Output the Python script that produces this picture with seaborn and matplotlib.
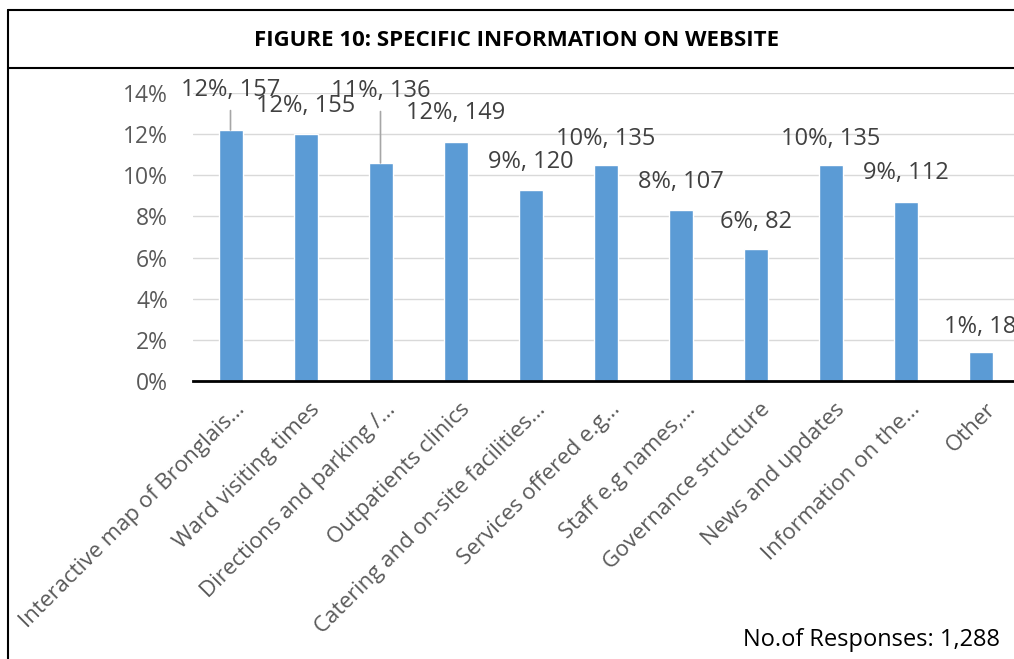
import numpy as np
import pandas as pd
import matplotlib
matplotlib.use("Agg")
import matplotlib.pyplot as plt
import seaborn as sns
from matplotlib.lines import Line2D
from matplotlib.transforms import ScaledTranslation

# data
categories = ["Interactive map of Bronglais\u2026", "Ward visiting times",
              "Directions and parking /\u2026", "Outpatients clinics",
              "Catering and on-site facilities\u2026", "Services offered e.g\u2026",
              "Staff e.g names,\u2026", "Governance structure", "News and updates",
              "Information on the\u2026", "Other"]
share = [12.2, 12.0, 10.6, 11.6, 9.3, 10.5, 8.3, 6.4, 10.5, 8.7, 1.4]   # bar height, %
pct_labels = [12, 12, 11, 12, 9, 10, 8, 6, 10, 9, 1]
counts = [157, 155, 136, 149, 120, 135, 107, 82, 135, 112, 18]
n_responses = "1,288"

# label placement (points above bar top), leader line on the moved ones
label_offset = [29, 20, 52, 21, 20, 19, 20, 20, 19, 21, 18]
leader = [True, False, True, False, False, False, False, False, False, False, False]

df = pd.DataFrame({"category": categories, "share": share})

sns.set_style("white")
plt.rcParams["font.family"] = ["Open Sans", "DejaVu Sans"]

fig = plt.figure(figsize=(10.14, 6.59), dpi=100)
W, H = 1014, 659
ax = fig.add_axes([193 / W, 278 / H, 825 / W, 288 / H])

sns.barplot(data=df, x="category", y="share", color="#5B9BD5", width=0.32,
            saturation=1, ax=ax)

ax.set_ylim(0, 14)
ax.set_xlim(-0.5, len(categories) - 0.5)
ax.set_yticks(np.arange(0, 15, 2))
ax.set_yticklabels([f"{t}%" for t in range(0, 15, 2)])
ax.yaxis.grid(True, color="#D9D9D9", lw=1)
ax.set_axisbelow(True)
for s in ["top", "right", "left"]:
    ax.spines[s].set_visible(False)
ax.spines["bottom"].set_color("black")
ax.spines["bottom"].set_linewidth(2)
ax.set_xlabel("")
ax.set_ylabel("")
ax.tick_params(axis="y", length=0, pad=18, labelsize=16.5, labelcolor="#595959")
ax.tick_params(axis="x", length=0, pad=13, labelsize=16, labelcolor="#595959")

for lab in ax.get_xticklabels():
    lab.set_rotation(45)
    lab.set_ha("right")
    lab.set_va("top")
    lab.set_rotation_mode("anchor")
    lab.set_transform(lab.get_transform() + ScaledTranslation(3 / 72, 0, fig.dpi_scale_trans))

# data labels
for i, (v, p, c, off, ld) in enumerate(zip(share, pct_labels, counts, label_offset, leader)):
    arrow = None
    if ld:
        arrow = dict(arrowstyle="-", color="#A6A6A6", lw=1.2, shrinkA=4, shrinkB=0,
                     relpos=(0.5, 0))
    ax.annotate(f"{p}%, {c}", xy=(i, v), xytext=(0, off), textcoords="offset points",
                ha="center", va="center", fontsize=17, color="#404040",
                arrowprops=arrow, annotation_clip=False)

# frame and header like the report box
fig.add_artist(Line2D([8 / W, 8 / W], [0, 1 - 10 / H], color="black", lw=1.5,
                      transform=fig.transFigure))
fig.add_artist(Line2D([8 / W, 1], [1 - 10 / H, 1 - 10 / H], color="black", lw=1.5,
                      transform=fig.transFigure))
fig.add_artist(Line2D([8 / W, 1], [1 - 68 / H, 1 - 68 / H], color="black", lw=1.5,
                      transform=fig.transFigure))
fig.text(517 / W, 1 - 40 / H, "FIGURE 10: SPECIFIC INFORMATION ON WEBSITE",
         ha="center", va="center", fontsize=16, fontweight="bold", color="black")

fig.text(1000 / W, 19 / H, f"No.of Responses: {n_responses}", ha="right", va="center",
         fontsize=17, color="black")

fig.savefig("out.png", dpi=100)
